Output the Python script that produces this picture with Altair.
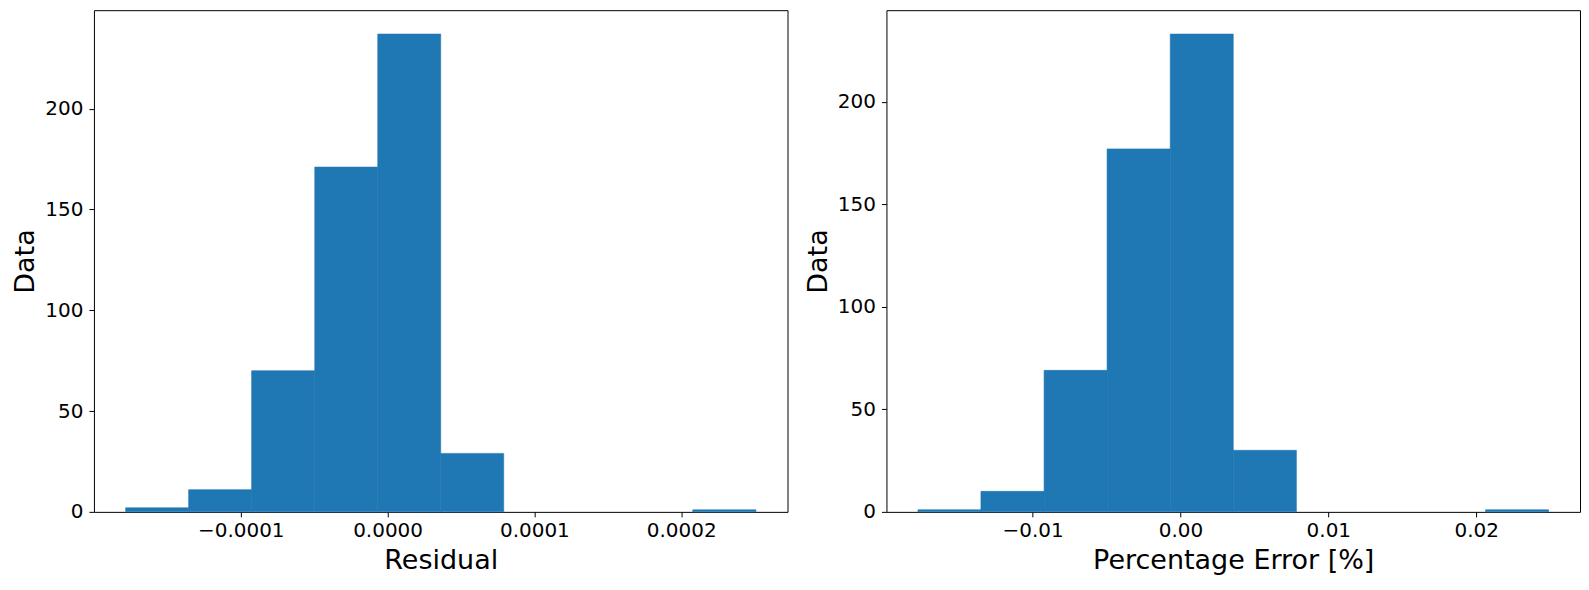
import altair as alt
import pandas as pd

# Left panel: residual histogram
res_edges = [-0.0001784, -0.0001355, -0.0000926, -0.0000496, -0.0000067, 0.0000362,
             0.0000791, 0.0001221, 0.0001650, 0.0002079, 0.0002509]
res_counts = [2, 11, 70, 171, 237, 29, 0, 0, 0, 1]
res_ticks = [-0.0001, 0.0, 0.0001, 0.0002]
res_domain = [-0.0002, 0.0002724]

# Right panel: percentage error histogram
pct_edges = [-0.01775, -0.01349, -0.00922, -0.00496, -0.00069, 0.00357,
             0.00784, 0.01210, 0.01636, 0.02063, 0.02489]
pct_counts = [1, 10, 69, 177, 233, 30, 0, 0, 0, 1]
pct_ticks = [-0.01, 0.0, 0.01, 0.02]
pct_domain = [-0.01988, 0.027016]

y_ticks = [0, 50, 100, 150, 200]

BLUE = "#1f77b4"
FONT = "DejaVu Sans"


def panel(edges, counts, xdomain, xticks, fmt, xtitle):
    df = pd.DataFrame({
        "lo": edges[:-1],
        "hi": edges[1:],
        "count": counts,
    })
    df = df[df["count"] > 0]
    ymax = max(counts) * 1.05
    return alt.Chart(df).mark_rect(color=BLUE, stroke=BLUE, strokeWidth=0.6).encode(
        x=alt.X("lo:Q",
                scale=alt.Scale(domain=xdomain, nice=False, zero=False),
                axis=alt.Axis(values=xticks, title=xtitle,
                              labelExpr=f"replace(format(datum.value, '{fmt}'), '-', '\u2212')",
                              labelFontSize=20, titleFontSize=27,
                              labelFont=FONT, titleFont=FONT,
                              titleFontWeight="normal",
                              labelColor="black", titleColor="black",
                              tickColor="black", tickSize=5, tickWidth=1,
                              labelPadding=4, titlePadding=7,
                              domain=False, grid=False, labelFlush=False)),
        x2="hi:Q",
        y=alt.Y("count:Q",
                scale=alt.Scale(domain=[0, ymax], nice=False),
                axis=alt.Axis(values=y_ticks, title="Data", format="d",
                              labelFontSize=20, titleFontSize=27,
                              labelFont=FONT, titleFont=FONT,
                              titleFontWeight="normal",
                              labelColor="black", titleColor="black",
                              tickColor="black", tickSize=5, tickWidth=1,
                              labelPadding=6, titlePadding=5,
                              domain=False, grid=False, labelFlush=False)),
        y2=alt.datum(0),
    ).properties(width=694, height=502)


left = panel(res_edges, res_counts, res_domain, res_ticks, ".4f", "Residual")
right = panel(pct_edges, pct_counts, pct_domain, pct_ticks, ".2f", "Percentage Error [%]")

chart = alt.hconcat(left, right, spacing=15).properties(
    padding={"left": 3, "top": 1, "right": 0, "bottom": 0}
).configure(
    background="white"
).configure_view(
    stroke="black", strokeWidth=1
)

chart.save("out.html", embed_options={"renderer": "svg", "actions": False})
